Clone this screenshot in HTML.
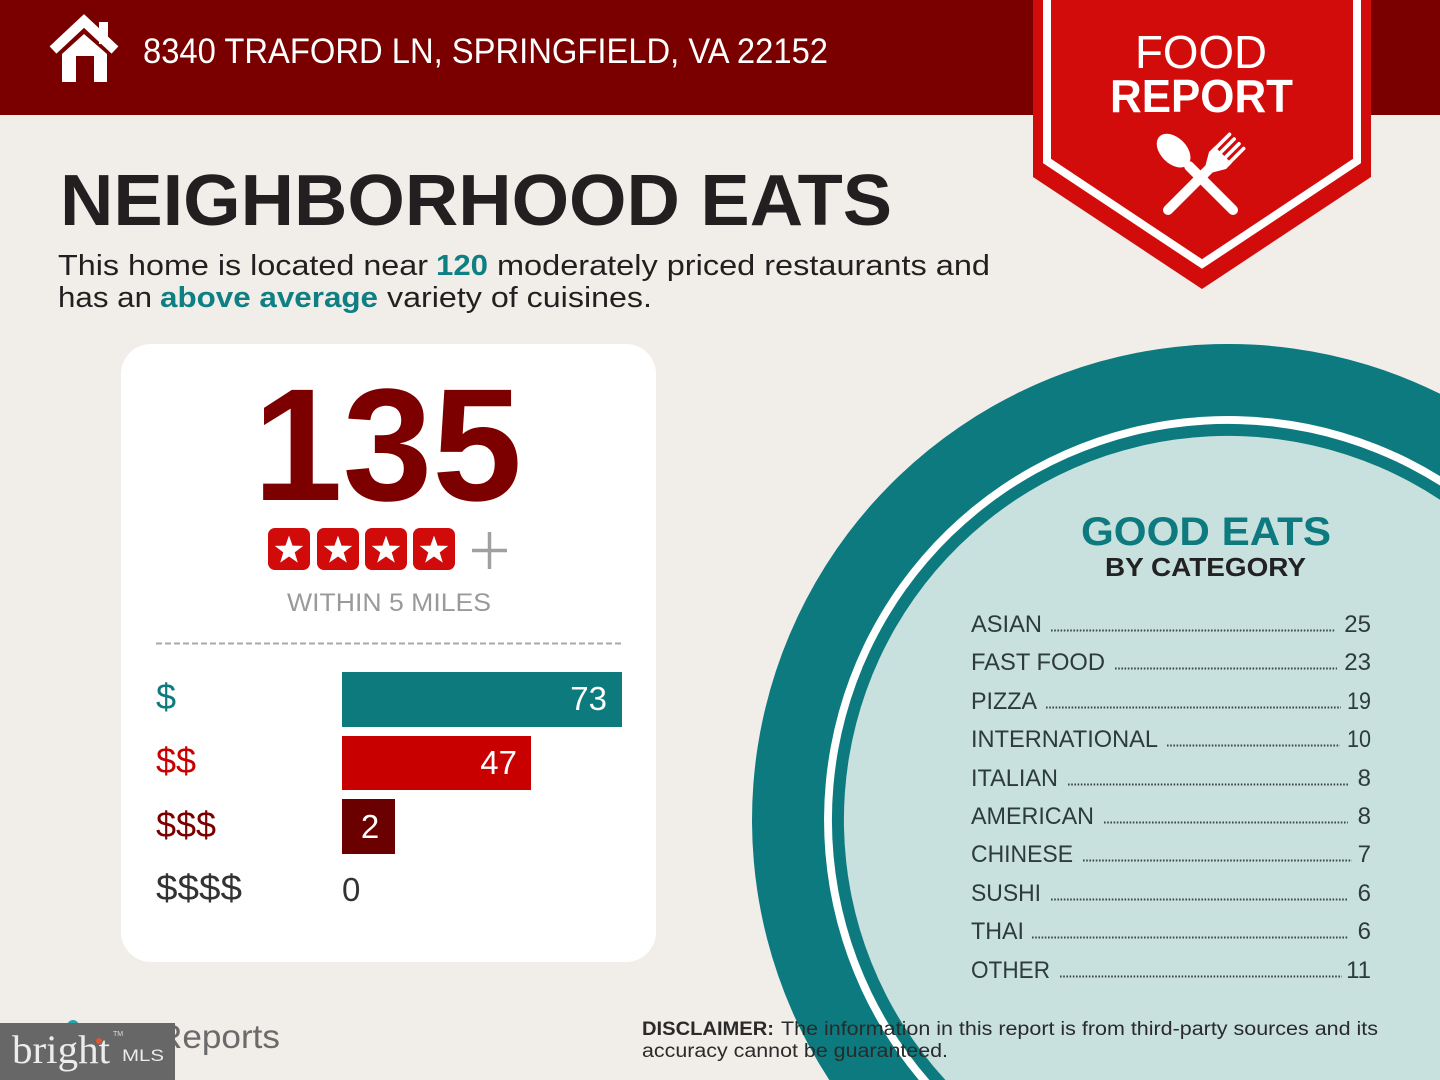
<!DOCTYPE html>
<html><head><meta charset="utf-8"><style>
html,body{margin:0;padding:0;background:#f1ede9;width:1440px;height:1080px;overflow:hidden;}
svg{display:block;}
text{font-family:"Liberation Sans",sans-serif;}
</style></head><body>
<svg width="1440" height="1080" viewBox="0 0 1440 1080" xmlns="http://www.w3.org/2000/svg">
<rect x="0" y="0" width="1440" height="1080" fill="#f1ede9"/>
<!-- header -->
<rect x="0" y="0" width="1440" height="115" fill="#7a0000"/>
<!-- house icon -->
<g fill="#fff">
<rect x="99" y="22" width="9" height="22"/>
<polyline points="53,50 84,21 115,50" fill="none" stroke="#fff" stroke-width="10" stroke-linejoin="miter"/>
<path d="M62,82 L62,54 L84,34 L107,54 L107,82 Z"/>
<rect x="76" y="56" width="18" height="26" fill="#7a0000"/>
</g>
<text x="143" y="63" font-size="35" fill="#fff" textLength="685" lengthAdjust="spacingAndGlyphs">8340 TRAFORD LN, SPRINGFIELD, VA 22152</text>

<!-- badge -->
<polygon points="1033,0 1371,0 1371,177 1202,289 1033,177" fill="#d20b0b"/>
<polyline points="1047,0 1047,161 1202,264 1357,161 1357,0" fill="none" stroke="#fff" stroke-width="8" stroke-linejoin="miter"/>
<text x="1135" y="68" font-size="46" fill="#fff" textLength="132" lengthAdjust="spacingAndGlyphs">FOOD</text>
<text x="1110" y="112" font-size="46" font-weight="bold" fill="#fff" textLength="183" lengthAdjust="spacingAndGlyphs">REPORT</text>
<!-- spoon -->
<g transform="translate(1233,210) rotate(-45)" fill="#fff">
<line x1="0" y1="0" x2="0" y2="-62" stroke="#fff" stroke-width="10" stroke-linecap="round"/>
<ellipse cx="0" cy="-84" rx="13" ry="20"/>
</g>
<!-- fork -->
<g transform="translate(1168,210) rotate(45)" fill="#fff">
<line x1="0" y1="0" x2="0" y2="-60" stroke="#fff" stroke-width="10" stroke-linecap="round"/>
<path d="M-5,-58 L-12,-70 L-12,-78 L12,-78 L12,-70 L5,-58 Z"/>
<g stroke="#fff" stroke-width="3.6" stroke-linecap="round">
<line x1="-10" y1="-76" x2="-10" y2="-97"/>
<line x1="-3.4" y1="-76" x2="-3.4" y2="-97"/>
<line x1="3.4" y1="-76" x2="3.4" y2="-97"/>
<line x1="10" y1="-76" x2="10" y2="-97"/>
</g>
</g>

<!-- title -->
<text x="60" y="225" font-size="72" font-weight="bold" fill="#231f20" textLength="832" lengthAdjust="spacingAndGlyphs">NEIGHBORHOOD EATS</text>
<text x="58" y="275" font-size="29" fill="#231f20" textLength="370" lengthAdjust="spacingAndGlyphs">This home is located near</text>
<text x="436" y="275" font-size="29" font-weight="bold" fill="#0e7f82" textLength="52" lengthAdjust="spacingAndGlyphs">120</text>
<text x="497" y="275" font-size="29" fill="#231f20" textLength="493" lengthAdjust="spacingAndGlyphs">moderately priced restaurants and</text>
<text x="58" y="307" font-size="29" fill="#231f20" textLength="94" lengthAdjust="spacingAndGlyphs">has an</text>
<text x="160" y="307" font-size="29" font-weight="bold" fill="#0e7f82" textLength="218" lengthAdjust="spacingAndGlyphs">above average</text>
<text x="387" y="307" font-size="29" fill="#231f20" textLength="265" lengthAdjust="spacingAndGlyphs">variety of cuisines.</text>

<!-- card -->
<rect x="121" y="344" width="535" height="618" rx="30" ry="30" fill="#ffffff"/>
<text x="253" y="500" font-size="160" font-weight="bold" fill="#7d0000" textLength="269" lengthAdjust="spacingAndGlyphs">135</text>
<g>
<rect x="268" y="528" width="42" height="42" rx="7" fill="#d10a0a"/>
<rect x="317" y="528" width="42" height="42" rx="7" fill="#d10a0a"/>
<rect x="365" y="528" width="42" height="42" rx="7" fill="#d10a0a"/>
<rect x="413" y="528" width="42" height="42" rx="7" fill="#d10a0a"/>
<g fill="#fff">
<path transform="translate(289,550.5)" d="M0,-15 L3.53,-4.85 L14.27,-4.64 L5.71,1.85 L8.82,12.14 L0,6 L-8.82,12.14 L-5.71,1.85 L-14.27,-4.64 L-3.53,-4.85 Z"/>
<path transform="translate(338,550.5)" d="M0,-15 L3.53,-4.85 L14.27,-4.64 L5.71,1.85 L8.82,12.14 L0,6 L-8.82,12.14 L-5.71,1.85 L-14.27,-4.64 L-3.53,-4.85 Z"/>
<path transform="translate(386,550.5)" d="M0,-15 L3.53,-4.85 L14.27,-4.64 L5.71,1.85 L8.82,12.14 L0,6 L-8.82,12.14 L-5.71,1.85 L-14.27,-4.64 L-3.53,-4.85 Z"/>
<path transform="translate(434,550.5)" d="M0,-15 L3.53,-4.85 L14.27,-4.64 L5.71,1.85 L8.82,12.14 L0,6 L-8.82,12.14 L-5.71,1.85 L-14.27,-4.64 L-3.53,-4.85 Z"/>
</g>
<line x1="472" y1="550.5" x2="507" y2="550.5" stroke="#a0a0a0" stroke-width="3.5"/>
<line x1="489.5" y1="532" x2="489.5" y2="569" stroke="#a0a0a0" stroke-width="3.5"/>
</g>
<text x="287" y="611" font-size="25" fill="#9a9a9a" textLength="204" lengthAdjust="spacingAndGlyphs">WITHIN 5 MILES</text>
<line x1="156" y1="643.5" x2="622" y2="643.5" stroke="#a8a8a8" stroke-width="2" stroke-dasharray="6 3"/>

<rect x="342" y="672" width="280" height="55" fill="#0d7b7e"/>
<rect x="342" y="736" width="189" height="54" fill="#c90000"/>
<rect x="342" y="799" width="53" height="55" fill="#6b0000"/>
<text x="607" y="710" font-size="33" fill="#fff" text-anchor="end">73</text>
<text x="517" y="774" font-size="33" fill="#fff" text-anchor="end">47</text>
<text x="370" y="838" font-size="33" fill="#fff" text-anchor="middle">2</text>
<text x="342" y="901" font-size="33" fill="#333">0</text>
<text x="156" y="709" font-size="36" fill="#0d7b7e">$</text>
<text x="156" y="773" font-size="36" fill="#c90000">$$</text>
<text x="156" y="837" font-size="36" fill="#7a0000">$$$</text>
<text x="156" y="900" font-size="36" fill="#333" textLength="86" lengthAdjust="spacingAndGlyphs">$$$$</text>

<!-- plate (clipped to frame as paths) -->
<path d="M829.3,1080 A476,476 0 0 1 1440,393.8 L1440,1080 Z" fill="#0c7a7e"/>
<path d="M918.8,1080 A404,404 0 0 1 1440,476.1 L1440,1080 Z" fill="#ffffff"/>
<path d="M929.3,1080 A396,396 0 0 1 1440,485.5 L1440,1080 Z" fill="#0c7a7e"/>
<path d="M945.4,1080 A384,384 0 0 1 1440,499.8 L1440,1080 Z" fill="#c8e1df"/>

<text x="1081" y="545" font-size="40" font-weight="bold" fill="#0c7a7e" textLength="250" lengthAdjust="spacingAndGlyphs">GOOD EATS</text>
<text x="1105" y="576" font-size="26" font-weight="bold" fill="#222" textLength="201" lengthAdjust="spacingAndGlyphs">BY CATEGORY</text>

<g font-size="24" fill="#2d3b3b">
<text x="971" y="632" textLength="71" lengthAdjust="spacingAndGlyphs">ASIAN</text>
<text x="1371" y="632" text-anchor="end">25</text>
<text x="971" y="670" textLength="134" lengthAdjust="spacingAndGlyphs">FAST FOOD</text>
<text x="1371" y="670" text-anchor="end">23</text>
<text x="971" y="709" textLength="66" lengthAdjust="spacingAndGlyphs">PIZZA</text>
<text x="1371" y="709" text-anchor="end" textLength="24" lengthAdjust="spacingAndGlyphs">19</text>
<text x="971" y="747" textLength="187" lengthAdjust="spacingAndGlyphs">INTERNATIONAL</text>
<text x="1371" y="747" text-anchor="end" textLength="24" lengthAdjust="spacingAndGlyphs">10</text>
<text x="971" y="786" textLength="87" lengthAdjust="spacingAndGlyphs">ITALIAN</text>
<text x="1371" y="786" text-anchor="end">8</text>
<text x="971" y="824" textLength="123" lengthAdjust="spacingAndGlyphs">AMERICAN</text>
<text x="1371" y="824" text-anchor="end">8</text>
<text x="971" y="862" textLength="102" lengthAdjust="spacingAndGlyphs">CHINESE</text>
<text x="1371" y="862" text-anchor="end">7</text>
<text x="971" y="901" textLength="70" lengthAdjust="spacingAndGlyphs">SUSHI</text>
<text x="1371" y="901" text-anchor="end">6</text>
<text x="971" y="939" textLength="53" lengthAdjust="spacingAndGlyphs">THAI</text>
<text x="1371" y="939" text-anchor="end">6</text>
<text x="971" y="978" textLength="79" lengthAdjust="spacingAndGlyphs">OTHER</text>
<text x="1371" y="978" text-anchor="end">11</text>
</g>
<g stroke="#3a4646" stroke-width="2" stroke-dasharray="1.6 1.6">
<line x1="1051" y1="630.5" x2="1335" y2="630.5"/>
<line x1="1115" y1="668.5" x2="1337" y2="668.5"/>
<line x1="1046" y1="707.5" x2="1341" y2="707.5"/>
<line x1="1167" y1="745.5" x2="1340" y2="745.5"/>
<line x1="1068" y1="784.5" x2="1348" y2="784.5"/>
<line x1="1104" y1="822.5" x2="1348" y2="822.5"/>
<line x1="1083" y1="860.5" x2="1352" y2="860.5"/>
<line x1="1051" y1="899.5" x2="1348" y2="899.5"/>
<line x1="1032" y1="937.5" x2="1348" y2="937.5"/>
<line x1="1060" y1="976.5" x2="1342" y2="976.5"/>
</g>

<!-- disclaimer -->
<text x="642" y="1035" font-size="19" font-weight="bold" fill="#2a2a2a" textLength="132" lengthAdjust="spacingAndGlyphs">DISCLAIMER:</text>
<text x="781" y="1035" font-size="19" fill="#2a2a2a" textLength="597" lengthAdjust="spacingAndGlyphs">The information in this report is from third-party sources and its</text>
<text x="642" y="1057" font-size="19" fill="#2a2a2a" textLength="306" lengthAdjust="spacingAndGlyphs">accuracy cannot be guaranteed.</text>

<!-- footer logo -->
<circle cx="73" cy="1026" r="6" fill="#2aa5a5"/>
<text x="157" y="1048" font-size="33" fill="#6a6a6a" textLength="123" lengthAdjust="spacingAndGlyphs">Reports</text>
<rect x="0" y="1023" width="175" height="57" fill="#676767"/>
<text x="12" y="1063" font-size="40" fill="#ececec" textLength="98" lengthAdjust="spacingAndGlyphs" style="font-family:'Liberation Serif',serif">bright</text>
<circle cx="99" cy="1041" r="3" fill="#e0572a"/>
<text x="113" y="1036" font-size="7" fill="#ddd">TM</text>
<text x="122" y="1061" font-size="17" fill="#ececec" textLength="42" lengthAdjust="spacingAndGlyphs">MLS</text>
</svg>
</body></html>
